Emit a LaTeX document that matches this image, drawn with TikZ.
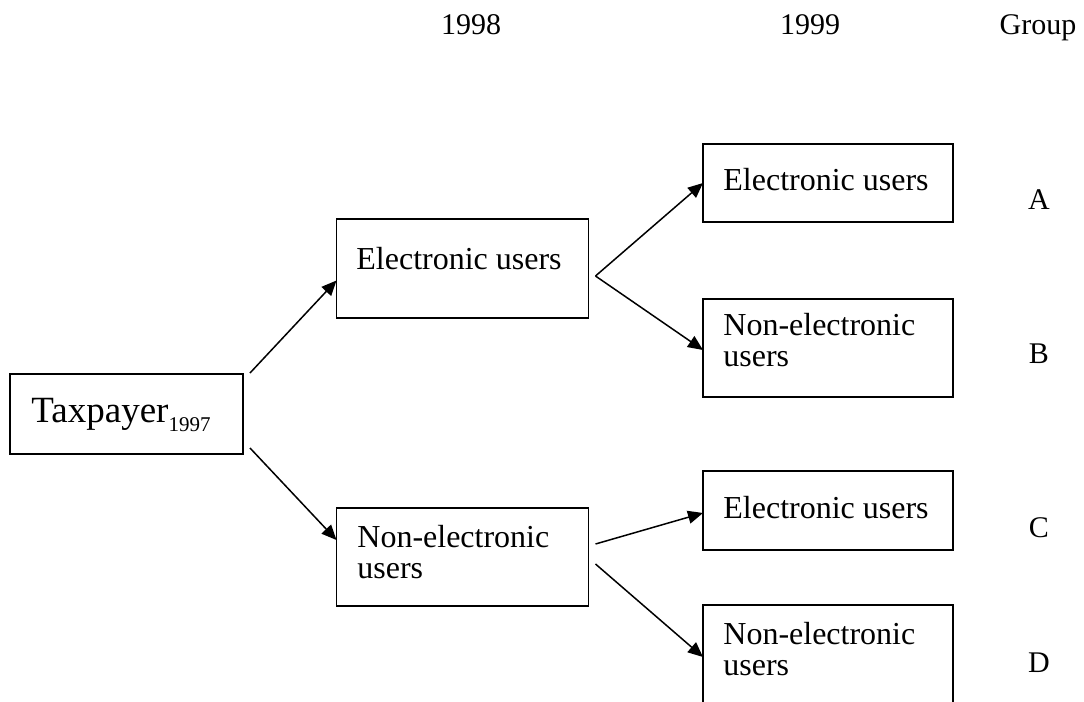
\documentclass[tikz,border=0pt]{standalone}
\usepackage{fontspec}
\setmainfont{Liberation Serif}
\usetikzlibrary{arrows.meta}
\begin{document}
\begin{tikzpicture}[x=0.5pt,y=-0.5pt,
  box/.style={draw,line width=0.8pt,inner sep=0pt,outer sep=0pt},
  boxtext/.style={anchor=base west,inner sep=0pt,align=left,
    font=\fontsize{16}{15.5}\selectfont},
  head/.style={anchor=base,inner sep=0pt,font=\fontsize{15}{15}\selectfont},
  link/.style={line width=0.75pt,-{Triangle[length=7.5pt,width=6.5pt]}}]
\useasboundingbox (0,0) rectangle (1084,702);
\clip (0,0) rectangle (1084,702);

% column headings
\node[head] (h98) at (471,34) {1998};
\node[head] (h99) at (810,34) {1999};
\node[head] (hgr) at (1038,34) {Group};

% boxes
\node[box,minimum width=116.5pt,minimum height=40pt] (tax) at (126.5,414) {};
\node[box,minimum width=126pt,minimum height=49.5pt] (e98) at (462.5,268.5) {};
\node[box,minimum width=126pt,minimum height=49pt] (n98) at (462.5,557) {};
\node[box,minimum width=125pt,minimum height=39pt] (ga) at (828,183) {};
\node[box,minimum width=125pt,minimum height=49pt] (gb) at (828,348) {};
\node[box,minimum width=125pt,minimum height=39.5pt] (gc) at (828,510.5) {};
\node[box,minimum width=125pt,minimum height=58pt] (gd) at (828,663) {};

% box labels (two-line labels are placed by the baseline of their last line)
\node[anchor=base west,inner sep=0pt] (taxt) at (31,422)
  {\fontsize{18.5}{20}\selectfont Taxpayer\raisebox{-4.5pt}{\fontsize{10.5}{12}\selectfont 1997}};
\node[boxtext] (e98t) at (356,269) {Electronic users};
\node[boxtext] (n98t) at (357,578) {Non-electronic\\users};
\node[boxtext] (gat) at (723,190) {Electronic users};
\node[boxtext] (gbt) at (723,366) {Non-electronic\\users};
\node[boxtext] (gct) at (723,518) {Electronic users};
\node[boxtext] (gdt) at (723,675) {Non-electronic\\users};

% group letters
\node[head] (la) at (1039,209) {A};
\node[head] (lb) at (1039,363) {B};
\node[head] (lc) at (1039,537) {C};
\node[head] (ld) at (1039,672) {D};

% connectors
\draw[link] ([shift={(7,-1)}]tax.north east) -- ([shift={(0,12)}]e98.west);
\draw[link] ([shift={(7,-6)}]tax.south east) -- ([shift={(0,-17)}]n98.west);
\coordinate (fork) at ([shift={(7,7.5)}]e98.east);
\draw[link] (fork) -- (ga.west);
\draw[link] (fork) -- ([shift={(0,2)}]gb.west);
\draw[link] ([shift={(7,-13)}]n98.east) -- ([shift={(0,2.5)}]gc.west);
\draw[link] ([shift={(7,7)}]n98.east) -- ([shift={(0,-6)}]gd.west);
\end{tikzpicture}
\end{document}
